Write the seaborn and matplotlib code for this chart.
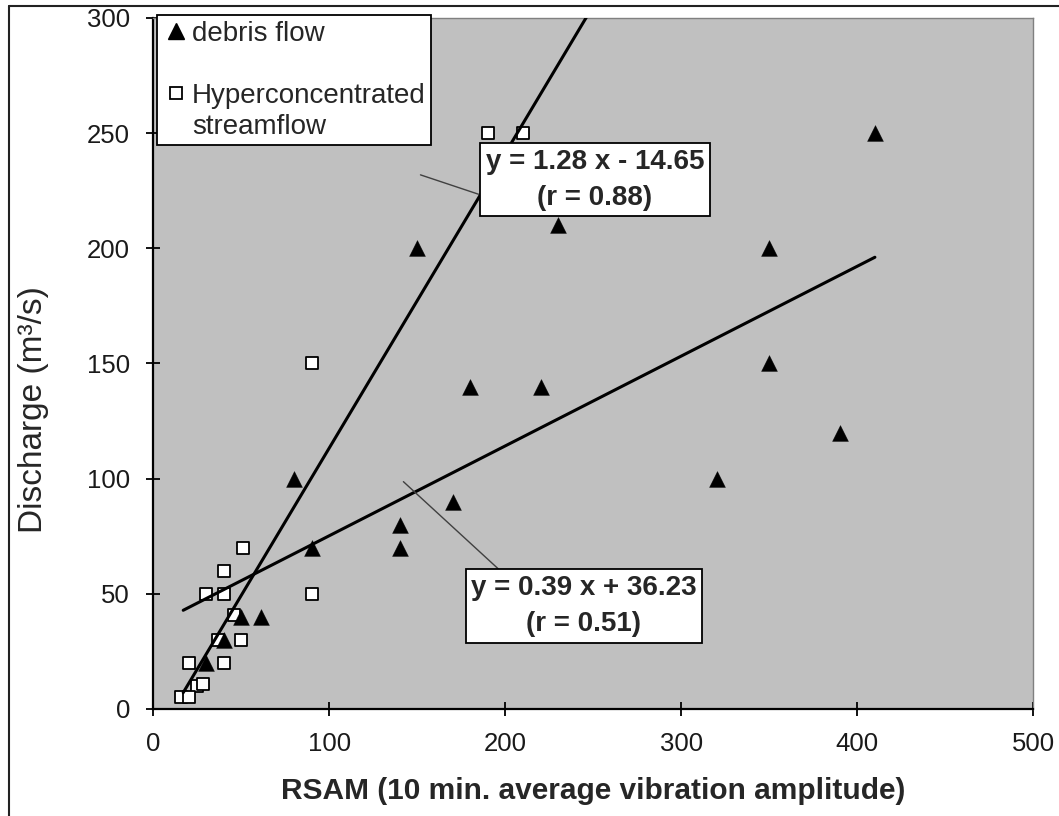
import matplotlib
matplotlib.use("Agg")
import matplotlib.pyplot as plt
from matplotlib.lines import Line2D
import numpy as np
import pandas as pd
import seaborn as sns

# ---------------- data ----------------
debris_rsam = [410, 350, 350, 390, 320, 230, 220, 180, 150, 170, 140, 140, 90, 80, 61, 50, 40, 30]
debris_q    = [250, 200, 150, 120, 100, 210, 140, 140, 200, 90, 80, 70, 70, 100, 40, 40, 30, 20]

hyper_rsam = [190, 210, 90, 90, 51, 40, 30, 40, 46, 37, 50, 20, 40, 25, 28, 16, 20]
hyper_q    = [250, 250, 150, 50, 70, 60, 50, 50, 41, 30, 30, 20, 20, 10, 11, 5, 5]

hyper_slope, hyper_icpt, hyper_r = 1.28, -14.65, 0.88
debris_slope, debris_icpt, debris_r = 0.39, 36.23, 0.51
hyper_fit_x = [17, 260]
debris_fit_x = [17, 410]

x_ticks = [0, 100, 200, 300, 400, 500]
y_ticks = [0, 50, 100, 150, 200, 250, 300]
x_label = "RSAM (10 min. average vibration amplitude)"
y_label = "Discharge (m³/s)"
legend_labels = ["debris flow", "", "Hyperconcentrated", "streamflow"]

# ---------------- style ----------------
sns.set_style("ticks")
plt.rcParams['font.family'] = ['Liberation Sans', 'DejaVu Sans']

W, H = 1059, 816
fig = plt.figure(figsize=(W / 100, H / 100), dpi=100)
fig.patch.set_facecolor('white')
ax = fig.add_axes([153.3 / W, 1 - 709 / H, 880 / W, 691 / H])
ax.set_facecolor('#c0c0c0')

debris_df = pd.DataFrame({'RSAM': debris_rsam, 'Q': debris_q})
hyper_df = pd.DataFrame({'RSAM': hyper_rsam, 'Q': hyper_q})

sns.scatterplot(data=hyper_df, x='RSAM', y='Q', marker='s', s=64, color='white',
                edgecolor='black', linewidth=1.3, ax=ax, zorder=3, legend=False)
sns.scatterplot(data=debris_df, x='RSAM', y='Q', marker='^', s=130, color='black',
                edgecolor='black', linewidth=0.3, ax=ax, zorder=3, legend=False)

hx = np.array(hyper_fit_x, dtype=float)
dx = np.array(debris_fit_x, dtype=float)
sns.lineplot(x=hx, y=hyper_slope * hx + hyper_icpt, color='black', linewidth=2.2, ax=ax, zorder=4)
sns.lineplot(x=dx, y=debris_slope * dx + debris_icpt, color='black', linewidth=2.2, ax=ax, zorder=4)

ax.set_xlim(0, 500)
ax.set_ylim(0, 300)
ax.set_xticks(x_ticks)
ax.set_yticks(y_ticks)

for s in ['left', 'bottom']:
    ax.spines[s].set_color('black')
    ax.spines[s].set_linewidth(1.6)
for s in ['top', 'right']:
    ax.spines[s].set_color('#808080')
    ax.spines[s].set_linewidth(1.0)
    ax.spines[s].set_visible(True)

ax.tick_params(direction='inout', length=9.5, width=1.3, labelsize=18.5, pad=12,
               colors='black', labelcolor='#1a1a1a')

ax.set_xlabel(x_label, fontsize=21.5, fontweight='bold')
ax.xaxis.set_label_coords(0.5, -0.0985)
ax.set_ylabel(y_label, fontsize=24)
ax.yaxis.set_label_coords(-0.1185, 0.4334)

box = dict(boxstyle='square,pad=0.2', fc='white', ec='black', lw=1.3)
hyper_txt = f"y = {hyper_slope:.2f} x - {abs(hyper_icpt):.2f}\n(r = {hyper_r:.2f})"
debris_txt = f"y = {debris_slope:.2f} x + {debris_icpt:.2f}\n(r = {debris_r:.2f})"
ax.annotate(hyper_txt, xy=(151.8, 231.9), xytext=(251.0, 229.7), textcoords='data',
            ha='center', va='center', fontsize=20, fontweight='bold', linespacing=1.5,
            bbox=box, zorder=6,
            arrowprops=dict(arrowstyle='-', color='#404040', lw=1.0, relpos=(0, 0.23),
                            shrinkA=0, shrinkB=0))
ax.annotate(debris_txt, xy=(142.1, 98.7), xytext=(244.7, 44.7), textcoords='data',
            ha='center', va='center', fontsize=20, fontweight='bold', linespacing=1.5,
            bbox=box, zorder=6,
            arrowprops=dict(arrowstyle='-', color='#404040', lw=1.0, relpos=(0.15, 1.0),
                            shrinkA=0, shrinkB=0))

handles = [
    Line2D([], [], ls='none', marker='^', color='black', markersize=11.5),
    Line2D([], [], ls='none'),
    Line2D([], [], ls='none', marker='s', markerfacecolor='white', markeredgecolor='black',
           markeredgewidth=1.3, markersize=8),
    Line2D([], [], ls='none'),
]
leg = ax.legend(handles, legend_labels, loc='upper left', bbox_to_anchor=(0.0042, 1.0043),
                borderaxespad=0, frameon=True, fancybox=False, framealpha=1,
                edgecolor='black', fontsize=20, borderpad=0.2, handlelength=1.0,
                handletextpad=0.06, labelspacing=0.18, handleheight=0.7)
leg.get_frame().set_linewidth(1.3)
leg.set_zorder(7)

# outer chart border (top and left edges visible in the reference crop)
fig.add_artist(Line2D([9 / W, 1], [1 - 6 / H, 1 - 6 / H], transform=fig.transFigure,
                      color='#222222', lw=1.5))
fig.add_artist(Line2D([9 / W, 9 / W], [0, 1 - 6 / H], transform=fig.transFigure,
                      color='#222222', lw=1.5))

fig.savefig('out.png', dpi=100)
